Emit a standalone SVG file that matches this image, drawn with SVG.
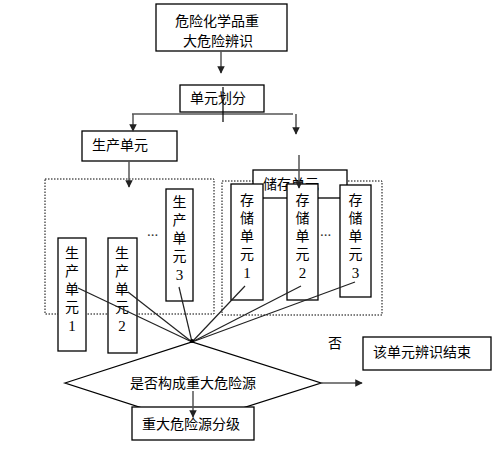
<svg xmlns="http://www.w3.org/2000/svg" width="504" height="450" viewBox="0 0 504 450">
<defs>
<style>
.b{fill:#fff;stroke:#000;stroke-width:1.3}
.d{fill:none;stroke:#000;stroke-width:1;stroke-dasharray:1.5 1.5}
.t{font-family:"Noto Sans CJK SC","Liberation Sans",sans-serif;font-size:14px;fill:#000}
.v{font-family:"Noto Sans CJK SC","Liberation Sans",sans-serif;font-size:14px;fill:#000;writing-mode:vertical-rl;text-orientation:upright;letter-spacing:4px}
.n{font-family:"Liberation Serif",serif;font-size:15px}
.c{stroke:#000;stroke-width:1.2;fill:none}
.a{stroke:#555;stroke-width:1.5;fill:none;marker-end:url(#ah)}
.k{stroke:#222;stroke-width:1.2;fill:none}
</style>
<marker id="ah" viewBox="0 0 10 10" refX="9" refY="5" markerWidth="5" markerHeight="5" orient="auto"><path d="M0,0L10,5L0,10z" fill="#222"/></marker>
</defs>
<rect width="504" height="450" fill="#fff"/>

<g id="prod-group"><rect class="d" x="45" y="179" width="169" height="135"/></g>
<g id="stor-group"><rect class="d" x="222" y="181" width="160" height="134"/></g>

<g id="start"><rect class="b" x="156" y="4" width="131" height="47"/>
<text class="t" x="217" y="25.5" text-anchor="middle">危险化学品重</text>
<text class="t" x="218" y="46" text-anchor="middle">大危险辨识</text></g>

<g id="divide"><rect class="b" x="180" y="85" width="84" height="27"/>
<text class="t" x="190" y="103">单元划分</text></g>

<g id="prod"><rect class="b" x="82" y="131" width="95" height="30"/>
<text class="t" x="92" y="150">生产单元</text></g>

<g id="stor"><rect class="b" x="253" y="170" width="94" height="28"/>
<text class="t" x="263" y="189">储存单元</text></g>

<g id="p1"><rect class="b" x="58" y="238" width="28" height="113"/>
<text class="v" x="72" y="246">生产单元<tspan class="n">1</tspan></text></g>

<g id="p2"><rect class="b" x="108" y="238" width="29" height="115"/>
<text class="v" x="122" y="246">生产单元<tspan class="n">2</tspan></text></g>

<g id="p3"><rect class="b" x="166" y="189" width="27" height="112"/>
<text class="v" x="179.5" y="195">生产单元<tspan class="n">3</tspan></text></g>

<g id="pdots"><text class="n" x="147" y="236" font-size="11" fill="#333">...</text></g>

<g id="s1"><rect class="b" x="231" y="184" width="32" height="116"/>
<text class="v" x="247" y="193">存储单元<tspan class="n">1</tspan></text></g>

<g id="s2"><rect class="b" x="287" y="184" width="31" height="116"/>
<text class="v" x="302.5" y="193">存储单元<tspan class="n">2</tspan></text></g>

<g id="s3"><rect class="b" x="340" y="185" width="31" height="112"/>
<text class="v" x="355.5" y="193">存储单元<tspan class="n">3</tspan></text></g>

<g id="sdots"><text class="n" x="320" y="236" font-size="11" fill="#333">...</text></g>

<g id="decision"><polygon class="b" points="65,383 192,342 321,383 192,424"/>
<text class="t" x="130" y="388">是否构成重大危险源</text></g>

<g id="grade"><rect class="b" x="132" y="407" width="122" height="33"/>
<text class="t" x="142" y="429">重大危险源分级</text></g>

<g id="end"><rect class="b" x="363" y="337" width="128" height="33"/>
<text class="t" x="373" y="357">该单元辨识结束</text></g>

<g id="no-label"><text class="t" x="328" y="348">否</text></g>

<g id="connectors">
<line class="a" x1="221" y1="51" x2="221" y2="73"/>
<line class="c" x1="223" y1="87" x2="223" y2="122"/>
<line class="c" x1="132" y1="114" x2="293" y2="114"/>
<line class="a" x1="133" y1="114" x2="133" y2="131"/>
<line class="a" x1="296" y1="114" x2="296" y2="134"/>
<line class="a" x1="299" y1="155" x2="299" y2="188"/>
<line class="a" x1="129" y1="161" x2="129" y2="187"/>
<line class="k" x1="78" y1="288" x2="192" y2="342"/>
<line class="k" x1="128" y1="292" x2="192" y2="342"/>
<line class="k" x1="179" y1="287" x2="192" y2="342"/>
<line class="k" x1="245" y1="286" x2="192" y2="342"/>
<line class="k" x1="301" y1="286" x2="192" y2="342"/>
<line class="k" x1="355" y1="282" x2="192" y2="342"/>
<circle cx="192" cy="341" r="2" fill="#000"/>
<line class="a" x1="321" y1="383" x2="362" y2="383"/>
<line class="a" x1="193" y1="391" x2="193" y2="417"/>
</g>
</svg>
